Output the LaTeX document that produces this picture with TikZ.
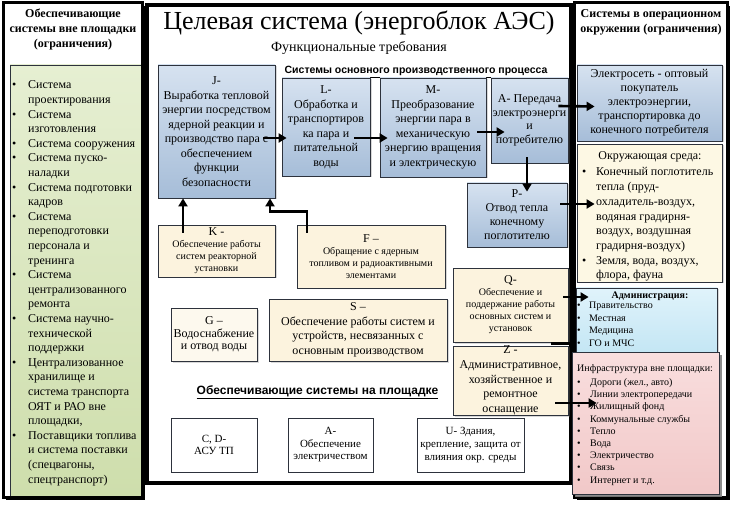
\documentclass[tikz,border=0pt]{standalone}
\usepackage{fontspec}
\setmainfont{Liberation Serif}
\setsansfont{Liberation Sans}
\usetikzlibrary{arrows.meta,shadows}
\definecolor{bluetop}{RGB}{214,226,240}
\definecolor{bluebot}{RGB}{166,189,216}
\definecolor{cream}{RGB}{252,243,222}
\definecolor{creamlt}{RGB}{253,249,238}
\definecolor{greentop}{RGB}{230,239,210}
\definecolor{greenbot}{RGB}{206,222,172}
\definecolor{envc}{RGB}{253,248,228}
\definecolor{admtop}{RGB}{224,243,251}
\definecolor{admbot}{RGB}{196,230,244}
\definecolor{pinktop}{RGB}{249,222,222}
\definecolor{pinkbot}{RGB}{241,200,200}
\definecolor{edge}{RGB}{45,50,60}
\newcommand{\bltx}[1]{\makebox[#1][l]{\textbullet}}
\tikzset{
  box/.style={draw=edge, line width=0.8pt, inner sep=0pt, align=center, anchor=center},
  shad/.style={drop shadow={opacity=0.3,shadow xshift=1.5pt,shadow yshift=-1.5pt}},
  bluebox/.style={box, shad, top color=bluetop, bottom color=bluebot},
  creambox/.style={box, shad, fill=cream},
  whitebox/.style={box, fill=white},
  arr/.style={line width=2.6pt, -{Triangle[length=8pt,width=9pt]}},
  fxii/.style={font=\fontsize{12}{14.5}\selectfont},
  fx/.style={font=\fontsize{10}{12.5}\selectfont},
  lst/.style={anchor=base west, inner sep=0pt},
}
\begin{document}
\begin{tikzpicture}[x=1pt,y=-1pt]
\useasboundingbox (0,0) rectangle (730,510);
% shadows of outer columns
\fill[black] (6,6) rectangle (145,500);
\fill[black] (577,6) rectangle (730,500);
% left column
\fill[white] (3,3) rectangle (142,497);
\draw[edge, line width=0.8pt, top color=greentop, bottom color=greenbot] (10,65) rectangle (141,496);
\draw[black, line width=3pt] (3,3) rectangle (142,497);
% right column frame
\filldraw[fill=white, draw=black, line width=3pt] (574,3) rectangle (727,497);
% centre frame
\filldraw[fill=white, draw=black, line width=3.2pt] (147,5) rectangle (571,483);

% headers
\node[font=\bfseries\fontsize{12}{15}\selectfont, align=center] (lhead) at (73,29) {Обеспечивающие\\системы вне площадки\\(ограничения)};
\node[font=\bfseries\fontsize{12}{15}\selectfont, align=center] (rhead) at (651,22.5) {Системы в операционном\\окружении (ограничения)};
\node[font=\fontsize{26}{30}\selectfont, anchor=base] (title) at (359,30) {Целевая система (энергоблок АЭС)};
\node[font=\fontsize{14}{17}\selectfont, anchor=base] (subtitle) at (359,52) {Функциональные требования};
\node[font=\sffamily\bfseries\fontsize{10.5}{12}\selectfont, anchor=base] (mainlbl) at (416,74) {\underline{Системы основного производственного процесса}};
\node[font=\sffamily\bfseries\fontsize{12}{14}\selectfont, anchor=base] (suplbl) at (317.5,394) {\underline{Обеспечивающие системы на площадке}};

% left list
\node[lst, font=\fontsize{12}{14.6}\selectfont] (leftlist) at (12,89) {%
\begin{tabular}[t]{@{}l@{}l@{}}
\bltx{16pt} & Система\\
 & проектирования\\
\bltx{16pt} & Система\\
 & изготовления\\
\bltx{16pt} & Система сооружения\\
\bltx{16pt} & Система пуско-\\
 & наладки\\
\bltx{16pt} & Система подготовки\\
 & кадров\\
\bltx{16pt} & Система\\
 & переподготовки\\
 & персонала и\\
 & тренинга\\
\bltx{16pt} & Система\\
 & централизованного\\
 & ремонта\\
\bltx{16pt} & Система научно-\\
 & технической\\
 & поддержки\\
\bltx{16pt} & Централизованное\\
 & хранилище и\\
 & система транспорта\\
 & ОЯТ и РАО вне\\
 & площадки,\\
\bltx{16pt} & Поставщики топлива\\
 & и система поставки\\
 & (спецвагоны,\\
 & спецтранспорт)
\end{tabular}};

% main process boxes
\node[bluebox, fxii, minimum width=117, minimum height=133] (J) at (216.5,131.5) {J-\\Выработка тепловой\\энергии посредством\\ядерной реакции и\\производство пара с\\обеспечением\\функции\\безопасности};
\node[bluebox, fxii, minimum width=88, minimum height=98] (L) at (326,127) {L-\\Обработка и\\транспортиров\\ка пара и\\питательной\\воды};
\node[bluebox, fxii, minimum width=106, minimum height=99] (M) at (433,127.5) {M-\\Преобразование\\энергии пара в\\механическую\\энергию вращения\\и электрическую};
\node[bluebox, font=\fontsize{12}{13.5}\selectfont, minimum width=77, minimum height=85] (A) at (529.5,120.5) {A- Передача\\электроэнерги\\и\\потребителю};
\node[bluebox, font=\fontsize{12}{14}\selectfont, minimum width=100, minimum height=64] (P) at (517,215) {P-\\Отвод тепла\\конечному\\поглотителю};

% supporting boxes
\node[creambox, minimum width=117, minimum height=52] (K) at (216.5,251) {\fontsize{12}{13}\selectfont K -\\\fontsize{10}{13}\selectfont Обеспечение работы\\систем реакторной\\установки};
\node[creambox, minimum width=148, minimum height=63] (F) at (371,256.5) {\fontsize{12}{13}\selectfont F –\\\fontsize{10}{12.5}\selectfont Обращение с ядерным\\топливом и радиоактивными\\элементами};
\node[box, shad, fill=creamlt, font=\fontsize{12}{12.5}\selectfont, minimum width=86, minimum height=53] (G) at (214,334.5) {G –\\Водоснабжение\\и отвод воды};
\node[creambox, fxii, minimum width=178, minimum height=62] (S) at (358,330) {S –\\Обеспечение работы систем и\\устройств, несвязанных с\\основным производством};
\node[creambox, minimum width=115, minimum height=74] (Q) at (510.5,305) {\fontsize{12}{12}\selectfont Q-\\\fontsize{10}{12}\selectfont Обеспечение и\\поддержание работы\\основных систем и\\установок};
\node[creambox, font=\fontsize{12}{14.7}\selectfont, minimum width=115, minimum height=69] (Z) at (510.5,380.5) {Z -\\Административное,\\хозяйственное и\\ремонтное\\оснащение};
\node[whitebox, font=\fontsize{11}{12.5}\selectfont, minimum width=86, minimum height=54] (CD) at (214,445) {C, D-\\АСУ ТП};
\node[whitebox, font=\fontsize{11}{12.5}\selectfont, minimum width=85, minimum height=54] (Ab) at (330.5,445) {A-\\Обеспечение\\электричеством};
\node[whitebox, font=\fontsize{11}{12.8}\selectfont, minimum width=107, minimum height=54] (U) at (470.5,445) {U- Здания,\\крепление, защита от\\влияния окр. среды};

% right column boxes
\node[bluebox, font=\fontsize{12}{14}\selectfont, minimum width=145, minimum height=76] (Elec) at (649.5,103) {Электросеть - оптовый\\покупатель\\электроэнергии,\\транспортировка до\\конечного потребителя};
\node[box, shad, fill=envc, minimum width=145, minimum height=138] (Env) at (649.5,213) {};
\node[anchor=base, fxii] (envtitle) at (650,160) {Окружающая среда:};
\node[lst, font=\fontsize{12}{14.7}\selectfont] (envlist) at (582,176) {%
\begin{tabular}[t]{@{}l@{}l@{}}
\bltx{14pt} & Конечный поглотитель\\
 & тепла (пруд-\\
 & охладитель-воздух,\\
 & водяная градирня-\\
 & воздух, воздушная\\
 & градирня-воздух)\\
\bltx{14pt} & Земля, вода, воздух,\\
 & флора, фауна
\end{tabular}};
\node[box, shad, top color=admtop, bottom color=admbot, minimum width=141, minimum height=64] (Adm) at (646.5,320) {};
\node[anchor=base, font=\bfseries\fontsize{10}{12.5}\selectfont] (admtitle) at (650,298.5) {Администрация:};
\node[lst, font=\fontsize{10}{12.6}\selectfont] (admlist) at (577,308.5) {%
\begin{tabular}[t]{@{}l@{}l@{}}
\bltx{12pt} & Правительство\\
\bltx{12pt} & Местная\\
\bltx{12pt} & Медицина\\
\bltx{12pt} & ГО и МЧС
\end{tabular}};
\node[box, drop shadow={opacity=0.9,shadow xshift=2.5pt,shadow yshift=-2.5pt}, top color=pinktop, bottom color=pinkbot, minimum width=147, minimum height=142] (Inf) at (645.5,423) {};
\node[lst, fx] (inftitle) at (577,371.5) {Инфраструктура вне площадки:};
\node[lst, font=\fontsize{10}{12.2}\selectfont] (inflist) at (577,385.5) {%
\begin{tabular}[t]{@{}l@{}l@{}}
\bltx{13pt} & Дороги (жел., авто)\\
\bltx{13pt} & Линии электропередачи\\
\bltx{13pt} & Жилищный фонд\\
\bltx{13pt} & Коммунальные службы\\
\bltx{13pt} & Тепло\\
\bltx{13pt} & Вода\\
\bltx{13pt} & Электричество\\
\bltx{13pt} & Связь\\
\bltx{13pt} & Интернет и т.д.
\end{tabular}};

% connectors
\draw[arr] ([xshift=-12pt,yshift=-6.5pt]J.east) -- ([xshift=5pt,yshift=-11pt]L.west);
\draw[arr] ([xshift=-16pt,yshift=-11pt]L.east) -- ([xshift=8pt,yshift=-10.5pt]M.west);
\draw[arr] ([xshift=-9pt,yshift=-4.5pt]M.east) -- ([xshift=14pt,yshift=-11.5pt]A.west);
\draw[arr] ([xshift=-2.5pt,yshift=6pt]A.south) -- ([xshift=10pt,yshift=-9pt]P.north);
\draw[arr] ([xshift=-10pt,yshift=14.5pt]A.east) -- ([xshift=18pt,yshift=-3.5pt]Elec.west);
\draw[arr] ([xshift=-7pt,yshift=11pt]P.east) -- ([xshift=18pt,yshift=9pt]Env.west);
\draw[arr] ([xshift=-33.5pt,yshift=-8pt]K.north) -- ([xshift=-33.5pt]J.south);
\draw[arr] ([xshift=-64pt,yshift=-8pt]F.north) -- ++(0,-21) -| ([xshift=53.5pt]J.south);
\draw[arr] ([xshift=-5pt,yshift=8pt]Q.east) -- ([xshift=13pt,yshift=23pt]Adm.west);
\draw[line width=2.6pt] ([xshift=40pt,yshift=2pt]Z.north) -- ([yshift=2pt]Z.north -| Adm.west);
\draw[arr] ([xshift=-13pt,yshift=-22.5pt]Z.east) -- ([xshift=25pt,yshift=20pt]Inf.west);
\end{tikzpicture}
\end{document}
